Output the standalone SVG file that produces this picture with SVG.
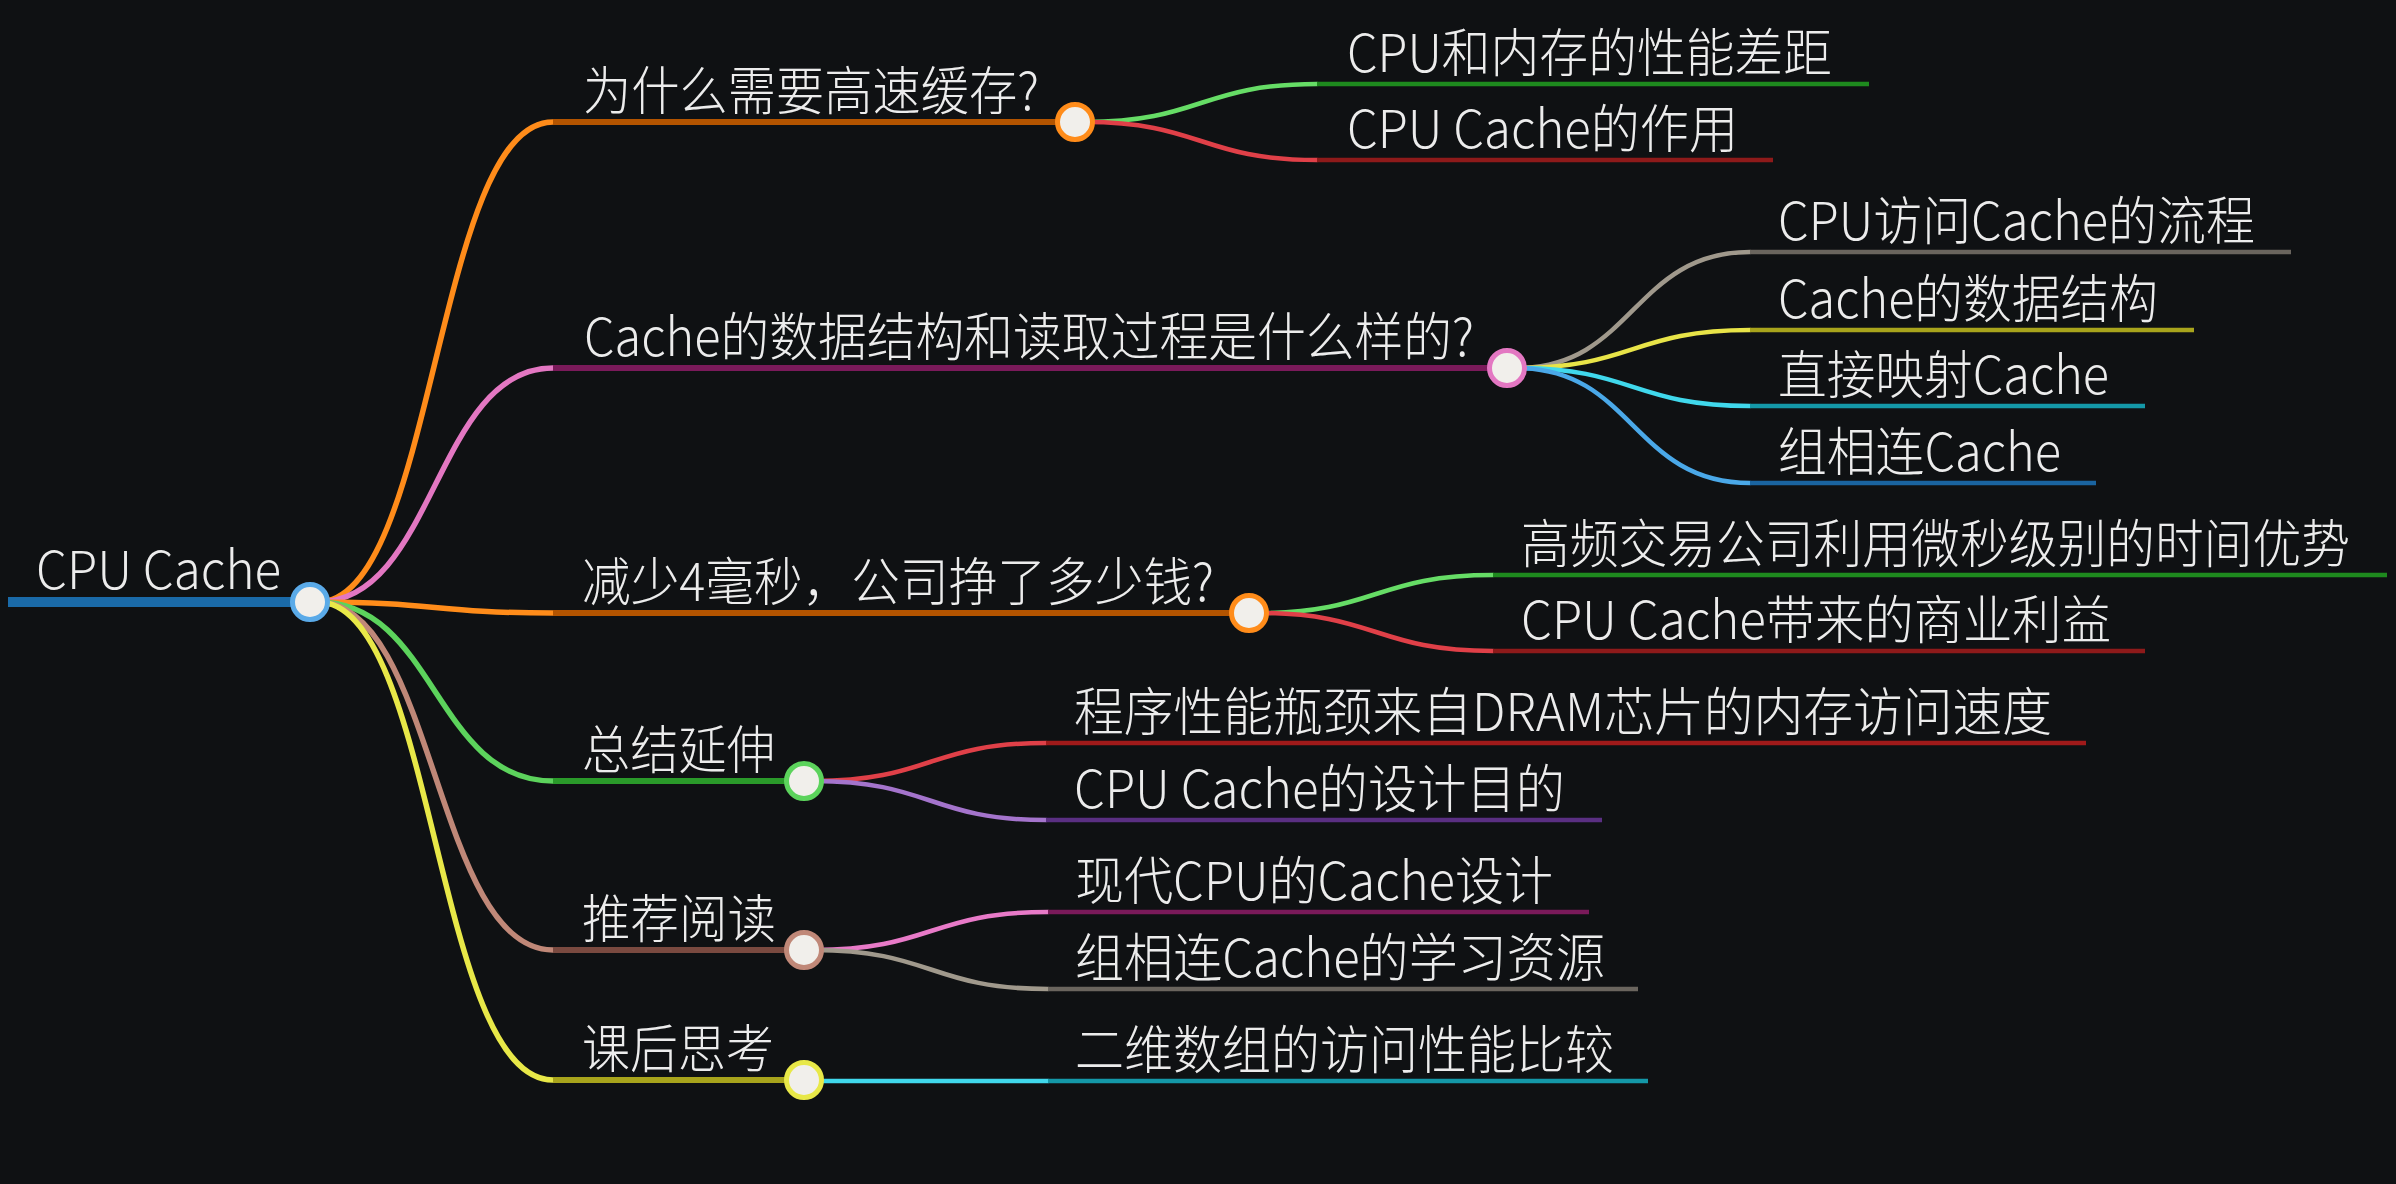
<svg xmlns="http://www.w3.org/2000/svg" width="2396" height="1184" viewBox="0 0 2396 1184">
<style>
  .t{font-family:"Noto Sans CJK SC","Noto Sans",sans-serif;font-weight:300;font-size:52px;fill:#ececec}
  .c{fill:none;stroke-width:5.5;stroke-linecap:round}
  .c2{fill:none;stroke-width:4.5;stroke-linecap:round}
  .l1{stroke-width:6}
  .l2{stroke-width:4.5}
  .dot{fill:#f1efeb;stroke-width:5}
</style>
<rect width="2396" height="1184" fill="#0f1113"/>
<g id="connectors">
  <path class="c" d="M318 602 C435 602 435 122 553 122" stroke="#ff8c1a"/>
  <path class="c" d="M318 602 C435 602 435 368 553 368" stroke="#e377c2"/>
  <path class="c" d="M318 602 C435 602 435 613 553 613" stroke="#ff8c1a"/>
  <path class="c" d="M318 602 C435 602 435 781 553 781" stroke="#5cd35c"/>
  <path class="c" d="M318 602 C435 602 435 950 553 950" stroke="#c08878"/>
  <path class="c" d="M318 602 C435 602 435 1080 553 1080" stroke="#e8e848"/>
  <path class="c2" d="M1085 122 C1201 122 1201 84 1317 84" stroke="#66dd66"/>
  <path class="c2" d="M1085 122 C1201 122 1201 160 1317 160" stroke="#e04048"/>
  <path class="c2" d="M1517 368 C1633 368 1633 252 1750 252" stroke="#a0998c"/>
  <path class="c2" d="M1517 368 C1633 368 1633 330 1750 330" stroke="#e8e448"/>
  <path class="c2" d="M1517 368 C1633 368 1633 406 1750 406" stroke="#40d8ec"/>
  <path class="c2" d="M1517 368 C1633 368 1633 483 1750 483" stroke="#4aa8e8"/>
  <path class="c2" d="M1259 613 C1376 613 1376 575 1493 575" stroke="#66dd66"/>
  <path class="c2" d="M1259 613 C1376 613 1376 651 1493 651" stroke="#e04048"/>
  <path class="c2" d="M814 781 C930 781 930 743 1046 743" stroke="#e04048"/>
  <path class="c2" d="M814 781 C930 781 930 820 1046 820" stroke="#a474cc"/>
  <path class="c2" d="M814 950 C931 950 931 912 1048 912" stroke="#e87ac8"/>
  <path class="c2" d="M814 950 C931 950 931 989 1048 989" stroke="#a0998c"/>
  <path class="c2" d="M814 1081 L1048 1081" stroke="#40d8ec"/>
</g>
<g id="root">
  <line x1="8" y1="602" x2="300" y2="602" stroke="#1a6aa8" stroke-width="10"/>
  <text class="t" x="36" y="589" textLength="245" lengthAdjust="spacingAndGlyphs">CPU Cache</text>
</g>
<g id="n1">
  <line class="l1" x1="553" y1="122" x2="1070" y2="122" stroke="#b35400"/>
  <text class="t" x="583" y="110" textLength="456" lengthAdjust="spacingAndGlyphs">为什么需要高速缓存?</text>
</g>
<g id="n1a">
  <line class="l2" x1="1317" y1="84" x2="1869" y2="84" stroke="#1e8a1e"/>
  <text class="t" x="1347" y="72" textLength="485" lengthAdjust="spacingAndGlyphs">CPU和内存的性能差距</text>
</g>
<g id="n1b">
  <line class="l2" x1="1317" y1="160" x2="1773" y2="160" stroke="#8e1a1a"/>
  <text class="t" x="1347" y="148" textLength="391" lengthAdjust="spacingAndGlyphs">CPU Cache的作用</text>
</g>
<g id="n2">
  <line class="l1" x1="553" y1="368" x2="1500" y2="368" stroke="#7a1a5a"/>
  <text class="t" x="584" y="356" textLength="890" lengthAdjust="spacingAndGlyphs">Cache的数据结构和读取过程是什么样的?</text>
</g>
<g id="n2a">
  <line class="l2" x1="1750" y1="252" x2="2291" y2="252" stroke="#6a655e"/>
  <text class="t" x="1778" y="240" textLength="477" lengthAdjust="spacingAndGlyphs">CPU访问Cache的流程</text>
</g>
<g id="n2b">
  <line class="l2" x1="1750" y1="330" x2="2194" y2="330" stroke="#a8a41c"/>
  <text class="t" x="1778" y="318" textLength="380" lengthAdjust="spacingAndGlyphs">Cache的数据结构</text>
</g>
<g id="n2c">
  <line class="l2" x1="1750" y1="406" x2="2145" y2="406" stroke="#1498a8"/>
  <text class="t" x="1778" y="394" textLength="331" lengthAdjust="spacingAndGlyphs">直接映射Cache</text>
</g>
<g id="n2d">
  <line class="l2" x1="1750" y1="483" x2="2096" y2="483" stroke="#1a64a0"/>
  <text class="t" x="1778" y="471" textLength="283" lengthAdjust="spacingAndGlyphs">组相连Cache</text>
</g>
<g id="n3">
  <line class="l1" x1="553" y1="613" x2="1240" y2="613" stroke="#b35400"/>
  <text class="t" x="582" y="601" textLength="632" lengthAdjust="spacingAndGlyphs">减少4毫秒，公司挣了多少钱?</text>
</g>
<g id="n3a">
  <line class="l2" x1="1493" y1="575" x2="2387" y2="575" stroke="#1e8a1e"/>
  <text class="t" x="1521" y="563" textLength="829" lengthAdjust="spacingAndGlyphs">高频交易公司利用微秒级别的时间优势</text>
</g>
<g id="n3b">
  <line class="l2" x1="1493" y1="651" x2="2145" y2="651" stroke="#8e1a1a"/>
  <text class="t" x="1521" y="639" textLength="590" lengthAdjust="spacingAndGlyphs">CPU Cache带来的商业利益</text>
</g>
<g id="n4">
  <line class="l1" x1="553" y1="781" x2="800" y2="781" stroke="#2a9a2a"/>
  <text class="t" x="582" y="769" textLength="193" lengthAdjust="spacingAndGlyphs">总结延伸</text>
</g>
<g id="n4a">
  <line class="l2" x1="1046" y1="743" x2="2086" y2="743" stroke="#a01a1a"/>
  <text class="t" x="1074" y="731" textLength="978" lengthAdjust="spacingAndGlyphs">程序性能瓶颈来自DRAM芯片的内存访问速度</text>
</g>
<g id="n4b">
  <line class="l2" x1="1046" y1="820" x2="1602" y2="820" stroke="#5a2f82"/>
  <text class="t" x="1074" y="808" textLength="491" lengthAdjust="spacingAndGlyphs">CPU Cache的设计目的</text>
</g>
<g id="n5">
  <line class="l1" x1="553" y1="950" x2="800" y2="950" stroke="#7a4a40"/>
  <text class="t" x="582" y="938" textLength="194" lengthAdjust="spacingAndGlyphs">推荐阅读</text>
</g>
<g id="n5a">
  <line class="l2" x1="1048" y1="912" x2="1589" y2="912" stroke="#7a1a5a"/>
  <text class="t" x="1075" y="900" textLength="478" lengthAdjust="spacingAndGlyphs">现代CPU的Cache设计</text>
</g>
<g id="n5b">
  <line class="l2" x1="1048" y1="989" x2="1638" y2="989" stroke="#6a655e"/>
  <text class="t" x="1075" y="977" textLength="530" lengthAdjust="spacingAndGlyphs">组相连Cache的学习资源</text>
</g>
<g id="n6">
  <line class="l1" x1="553" y1="1080" x2="800" y2="1080" stroke="#a8a41c"/>
  <text class="t" x="582" y="1068" textLength="192" lengthAdjust="spacingAndGlyphs">课后思考</text>
</g>
<g id="n6a">
  <line class="l2" x1="1048" y1="1081" x2="1648" y2="1081" stroke="#1498a8"/>
  <text class="t" x="1075" y="1069" textLength="539" lengthAdjust="spacingAndGlyphs">二维数组的访问性能比较</text>
</g>
<g id="dots">
  <circle class="dot" cx="310" cy="602" r="17.5" stroke="#5aaae8"/>
  <circle class="dot" cx="1075" cy="122" r="17.5" stroke="#ff8c1a"/>
  <circle class="dot" cx="1507" cy="368" r="17.5" stroke="#e377c2"/>
  <circle class="dot" cx="1249" cy="613" r="17.5" stroke="#ff8c1a"/>
  <circle class="dot" cx="804" cy="781" r="17.5" stroke="#5cd35c"/>
  <circle class="dot" cx="804" cy="950" r="17.5" stroke="#c08878"/>
  <circle class="dot" cx="804" cy="1080" r="17.5" stroke="#e8e848"/>
</g>
</svg>
